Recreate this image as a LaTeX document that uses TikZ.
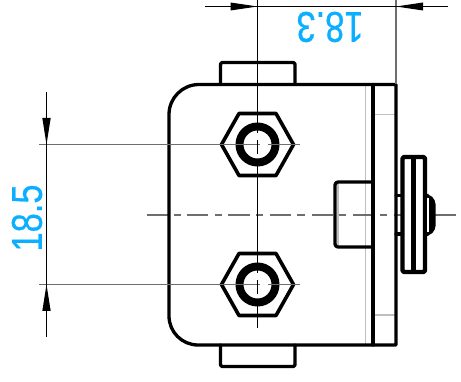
\documentclass[tikz,border=0pt]{standalone}
\usepackage{fontspec}
\usepackage{graphicx}
\newfontfamily\dimfont[FakeBold=0.6]{Liberation Sans}
\definecolor{dimcyan}{RGB}{10,175,255}
\definecolor{axisgrey}{RGB}{110,110,110}
\definecolor{hiddengrey}{RGB}{190,190,190}
\tikzset{
  thick line/.style={line width=3.3pt,line join=round,line cap=round,black},
  axis line/.style={line width=1.2pt,axisgrey},
  thin dim/.style={line width=0.9pt,black},
  ext grey/.style={line width=1.2pt,axisgrey},
  light/.style={line width=1.2pt,hiddengrey},
  dimarrow/.style={fill=black,draw=none},
  dimtext/.style={text=dimcyan,font=\dimfont\fontsize{43}{43}\selectfont,inner sep=0pt},
}
\newcommand{\hexbolt}[2]{%
  \draw[thick line,line width=3.6pt] (#1-36,#2) -- (#1-18.5,#2-31) -- (#1+18.5,#2-31) -- (#1+36,#2) -- (#1+18.5,#2+31) -- (#1-18.5,#2+31) -- cycle;
  \draw[black,line width=8pt] (#1,#2) circle[radius=18];
}
\begin{document}
\begin{tikzpicture}[x=1pt,y=-1pt]
\useasboundingbox (0,0) rectangle (461,382);
\fill[white] (0,0) rectangle (461,382);
% hidden / light lines
\draw[light] (365.7,85) -- (365.7,345);
\draw[light] (373,114.5) -- (396,114.5);
\draw[light] (373,315) -- (396,315);
\draw[light] (338,184) -- (338,245);
% axis
\draw[axis line] (146.7,215) -- (168,215) (174,215) -- (181,215) (187,215) -- (208,215) (215,215) -- (222,215) (228,215) -- (250,215) (256,215) -- (263,215) (270,215) -- (291,215) (297,215) -- (305,215) (312,215) -- (333,215) (339,215) -- (346,215) (353,215) -- (373,215) (380,215) -- (387,215) (394,215) -- (415,215) (421,215) -- (428,215) (435,215) -- (456,215);
% body
\draw[thick line] (199,84.5) arc[start angle=-90,end angle=-180,radius=30] -- (169,316) arc[start angle=180,end angle=90,radius=29] -- (396,345) -- (396,84.5) -- cycle;
\draw[thick line] (373,84.5) -- (373,345);
% bumps
\draw[thick line,rounded corners=1.5pt] (220.5,84.5) -- (220.5,62.5) -- (295,62.5) -- (295,84.5);
\draw[thick line,rounded corners=1.5pt] (220.5,345) -- (220.5,366.5) -- (295,366.5) -- (295,345);
% tab
\draw[thick line,rounded corners=3pt] (373,182) -- (335,182) -- (335,247) -- (373,247);
% knob
\draw[thick line] (396,195.5) -- (402,195.5);
\draw[thick line] (396,234) -- (402,234);
\draw[thick line,line width=4.4pt,rounded corners=2pt,fill=white] (402.5,157) -- (425,157) -- (425,272) -- (402.5,272) -- cycle;
\draw[black,line width=5.4pt] (413.5,157) -- (413.5,272);
\fill[black,rounded corners=4pt] (425,194) -- (429,194) -- (435.5,200) -- (435.5,230) -- (429,236) -- (425,236) -- cycle;
\fill[white] (427,198) rectangle (429,232);
% bolts
\hexbolt{257.5}{144.5}
\hexbolt{257.5}{284.5}
% extension lines
\draw[ext grey] (39,144.5) -- (260,144.5) (268,144.5) -- (300,144.5);
\draw[ext grey] (39,284.5) -- (260,284.5) (268,284.5) -- (300,284.5);
\draw[ext grey] (396,0) -- (396,84);
% vertical center
\draw[thin dim] (257.5,0) -- (257.5,133) (257.5,140) -- (257.5,154) (257.5,162) -- (257.5,273) (257.5,280) -- (257.5,294) (257.5,302) -- (257.5,328);
% dimensions
\draw[thin dim] (205,6.5) -- (448,6.5);
\draw[thin dim] (46.5,92) -- (46.5,337);
\fill[dimarrow] (257.5,6.5) -- (230.5,2.5) -- (230.5,10.5) -- cycle;
\fill[dimarrow] (396,6.5) -- (423,2.5) -- (423,10.5) -- cycle;
\fill[dimarrow] (46.5,144.5) -- (42.3,118) -- (50.7,118) -- cycle;
\fill[dimarrow] (46.5,284.5) -- (42.3,311) -- (50.7,311) -- cycle;
% labels
\node[dimtext,rotate=180] (top) at (330,27) {\scalebox{0.8}[1]{18.3}};
\node[dimtext,rotate=90] (left) at (27,218) {\scalebox{0.8}[1]{18.5}};
\end{tikzpicture}
\end{document}
